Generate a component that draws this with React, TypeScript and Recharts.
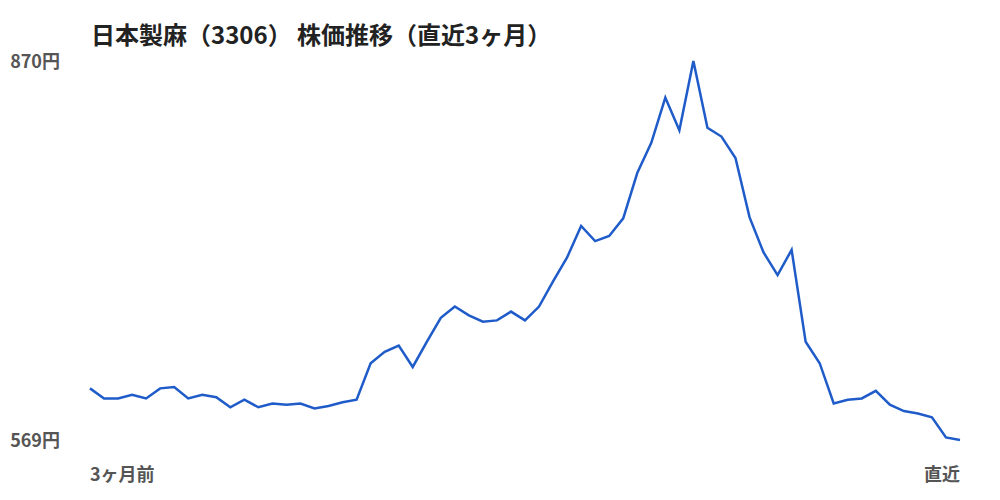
import { LineChart, Line, XAxis, YAxis } from "recharts";

const TITLE = "日本製麻（3306） 株価推移（直近3ヶ月）";

// closing prices, oldest → newest (about 3 months of trading days)
const prices = [
  610, 602, 602, 605, 602, 610, 611, 602, 605, 603,
  595, 601, 595, 598, 597, 598, 594, 596, 599, 601,
  630, 639, 644, 627, 647, 666, 675, 668, 663, 664,
  671, 664, 675, 695, 714, 739, 727, 731, 745, 781,
  805, 841, 815, 870, 817, 810, 793, 746, 718, 700,
  720, 647, 630, 598, 601, 602, 608, 597, 592, 590,
  587, 571, 569,
];

const xLabels = ["3ヶ月前", "直近"];

const data = prices.map((p, i) => ({ i, price: p }));
const lastIdx = prices.length - 1;
const minP = Math.min(...prices);
const maxP = Math.max(...prices);

const FONT = '"Noto Sans CJK JP", "Noto Sans", sans-serif';

const XTick = ({ x, y, payload }: any) => {
  const first = payload.value === 0;
  return (
    <text
      x={x}
      y={y}
      dy={39}
      textAnchor={first ? "start" : "end"}
      fill="#555"
      fontSize={18}
      fontWeight={600}
      fontFamily={FONT}
    >
      {first ? xLabels[0] : xLabels[1]}
    </text>
  );
};

const YTick = ({ x, y, payload }: any) => (
  <text
    x={x}
    y={y}
    dy={7}
    textAnchor="end"
    fill="#555"
    fontSize={18}
    fontWeight={600}
    fontFamily={FONT}
  >
    {`${payload.value}円`}
  </text>
);

export default function App() {
  return (
    <div style={{ position: "absolute", left: 0, top: 0, width: 1000, height: 500, background: "#fff" }}>
      <div
        style={{
          position: "absolute",
          left: 91,
          top: 16,
          fontFamily: FONT,
          fontSize: 24,
          fontWeight: 700,
          color: "#222",
          whiteSpace: "nowrap",
        }}
      >
        {TITLE}
      </div>
      <LineChart width={1000} height={500} data={data} margin={{ top: 61, right: 40, left: 0, bottom: 0 }}>
        <XAxis
          dataKey="i"
          type="number"
          domain={[0, lastIdx]}
          ticks={[0, lastIdx]}
          axisLine={false}
          tickLine={false}
          tickSize={0}
          height={60}
          tick={<XTick />}
        />
        <YAxis
          type="number"
          domain={[minP, maxP]}
          ticks={[minP, maxP]}
          width={90}
          axisLine={false}
          tickLine={false}
          tickSize={0}
          tickMargin={30}
          tick={<YTick />}
        />
        <Line
          type="linear"
          dataKey="price"
          stroke="#1f5cc9"
          strokeWidth={2.5}
          dot={false}
          isAnimationActive={false}
        />
      </LineChart>
    </div>
  );
}
